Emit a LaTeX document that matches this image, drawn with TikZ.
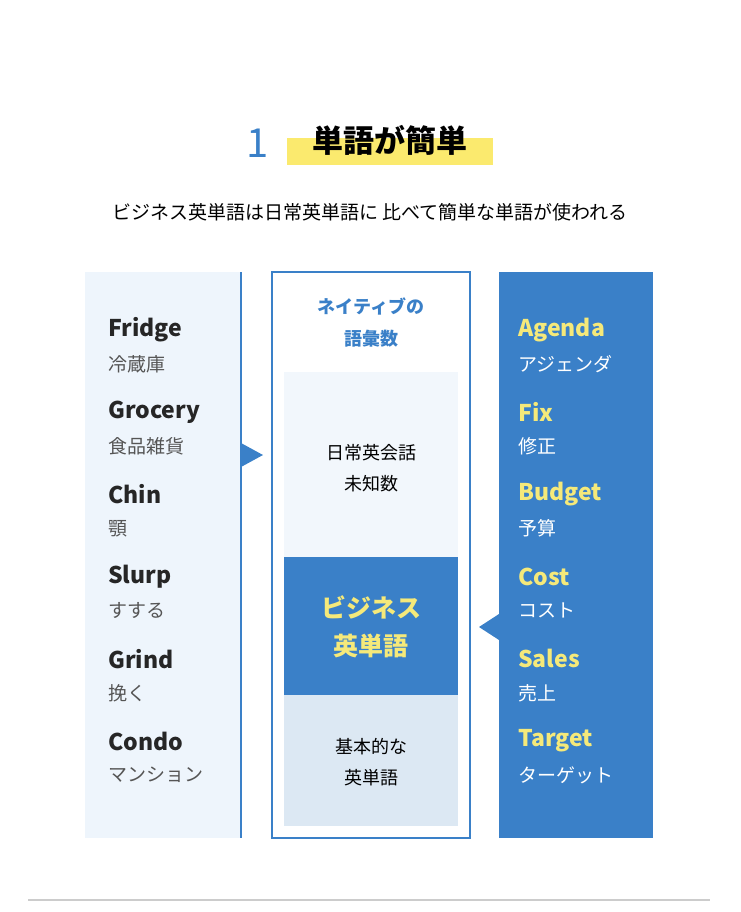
\documentclass[tikz,border=0pt]{standalone}
\usepackage{fontspec}
\setmainfont{Noto Sans CJK JP}
\newfontfamily\jpbold{Noto Sans CJK JP}[BoldFont={* Bold}]
\definecolor{mainblue}{HTML}{3A80C8}
\definecolor{paleblue}{HTML}{EEF5FC}
\definecolor{midpale}{HTML}{F2F7FC}
\definecolor{lowpale}{HTML}{DCE8F3}
\definecolor{wordyellow}{HTML}{F5E97A}
\definecolor{hiyellow}{HTML}{FBEA6E}
\definecolor{subgrey}{HTML}{555555}
\begin{document}
\begin{tikzpicture}[x=1pt, y=-1pt]
    \tikzset{
        enword/.style={anchor=west, font=\fontsize{23}{26}\selectfont\bfseries, inner sep=0pt},
        jpword/.style={anchor=west, font=\fontsize{19}{22}\selectfont, inner sep=0pt},
        midtext/.style={align=center, font=\fontsize{18}{31}\selectfont, inner sep=0pt}
    }
    \useasboundingbox (0,0) rectangle (740,912);

    % Title
    \fill[hiyellow] (287,138) rectangle (493,165);
    \node[font=\fontsize{40}{40}\selectfont, text=mainblue] (num) at (258,143) {1};
    \node[font=\fontsize{31}{31}\selectfont\bfseries] (title) at (390,140) {単語が簡単};
    \node[font=\fontsize{19}{22}\selectfont] (sub) at (370,212) {ビジネス英単語は日常英単語に 比べて簡単な単語が使われる};

    % Left panel
    \fill[paleblue] (85,272) rectangle (241,838);
    \draw[mainblue, line width=1.5pt] (241,272) -- (241,838);
    \fill[mainblue] (241,443) -- (263,455) -- (241,467) -- cycle;
    \foreach \en/\jp [count=\i from 0] in {Fridge/冷蔵庫, Grocery/食品雑貨, Chin/顎, Slurp/すする, Grind/挽く, Condo/マンション}{
        \node[enword, text=black!85] (left\i) at (108,{330+82.2*\i}) {\en};
        \node[jpword, text=subgrey] (leftjp\i) at (108,{364+82.2*\i}) {\jp};
    }

    % Middle box
    \draw[mainblue, line width=1.5pt] (272,272) rectangle (470,838);
    \fill[midpale] (284,372) rectangle (458,557);
    \fill[mainblue] (284,557) rectangle (458,695);
    \fill[lowpale] (284,695) rectangle (458,826);
    \node[midtext, font=\fontsize{18}{32}\selectfont\bfseries, text=mainblue] (native) at (371,323) {ネイティブの\\語彙数};
    \node[midtext] (daily) at (371,468) {日常英会話\\未知数};
    \node[midtext, font=\fontsize{25}{38}\selectfont\bfseries, text=wordyellow] (biz) at (371,627) {ビジネス\\英単語};
    \node[midtext] (basic) at (371,762) {基本的な\\英単語};

    % Right panel
    \fill[mainblue] (499,272) rectangle (653,838);
    \fill[mainblue] (499,614) -- (479,627) -- (499,640) -- cycle;
    \foreach \en/\jp [count=\i from 0] in {Agenda/アジェンダ, Fix/修正, Budget/予算, Cost/コスト, Sales/売上, Target/ターゲット}{
        \node[enword, text=wordyellow] (right\i) at (518,{330+82.2*\i}) {\en};
        \node[jpword, text=white] (rightjp\i) at (518,{364+82.2*\i}) {\jp};
    }

    % Bottom rule
    \draw[black!20, line width=1.2pt] (28,900) -- (710,900);
\end{tikzpicture}
\end{document}
